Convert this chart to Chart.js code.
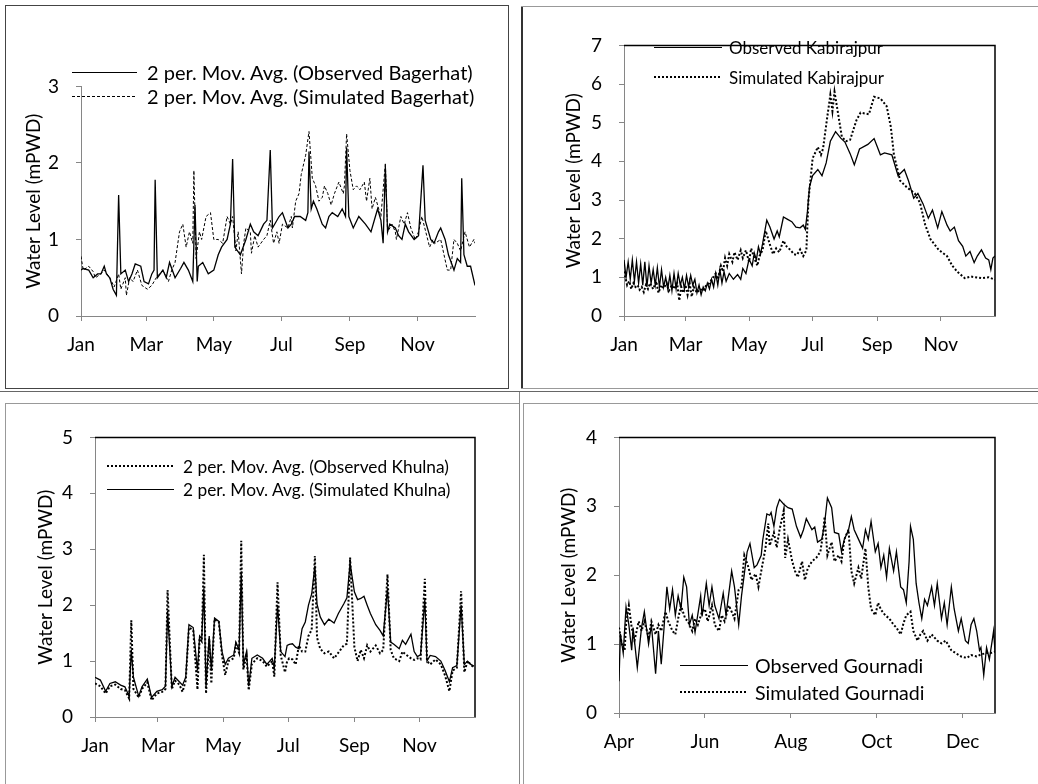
<!DOCTYPE html>
<html lang="en">
<head>
<meta charset="UTF-8">
<title>Observed vs simulated water levels</title>
<script src="https://cdn.jsdelivr.net/npm/chart.js"></script>
<style>
    body {
        margin: 0;
        background: #fff;
        font-family: Lato, "DejaVu Sans", sans-serif;
    }
    #page {
        position: relative;
        width: 1038px;
        height: 784px;
        overflow: hidden;
    }
    canvas {
        position: absolute;
    }
    .line {
        position: absolute;
    }
    .key {
        position: absolute;
        height: 24px;
        display: flex;
        align-items: center;
        white-space: nowrap;
        color: #000;
    }
    .solid { height: 1px; background: #000; }
    .dash { height: 1px; background: repeating-linear-gradient(90deg, #000 0 3px, transparent 3px 5px); }
    .dot { height: 2px; background: repeating-linear-gradient(90deg, #000 0 2px, transparent 2px 4px); }
</style>
</head>
<body>
<div id="page">
    <!-- panel frames -->
    <div class="line" style="left:5px;top:5px;width:504px;height:384px;border:1px solid #444;box-sizing:border-box"></div>
    <div class="line" style="left:521px;top:6px;width:2px;height:383px;background:#333"></div>
    <div class="line" style="left:521px;top:6px;width:517px;height:1px;background:#999"></div>
    <div class="line" style="left:521px;top:388px;width:517px;height:1px;background:#999"></div>
    <div class="line" style="left:0;top:391px;width:1038px;height:1px;background:#666"></div>
    <div class="line" style="left:5px;top:403px;width:515px;height:1px;background:#999"></div>
    <div class="line" style="left:5px;top:403px;width:1px;height:381px;background:#999"></div>
    <div class="line" style="left:519px;top:392px;width:1px;height:392px;background:#888"></div>
    <div class="line" style="left:523px;top:403px;width:515px;height:1px;background:#999"></div>
    <div class="line" style="left:523px;top:403px;width:1px;height:381px;background:#999"></div>

    <canvas id="bagerhat"></canvas>
    <canvas id="kabirajpur"></canvas>
    <canvas id="khulna"></canvas>
    <canvas id="gournadi"></canvas>

    <!-- legends -->
    <div class="key" style="left:72px;top:60px;font-size:20px"><span class="solid" style="width:65px;margin-right:10px"></span>2 per. Mov. Avg. (Observed Bagerhat)</div>
    <div class="key" style="left:72px;top:84px;font-size:20px"><span class="dash" style="width:65px;margin-right:10px"></span>2 per. Mov. Avg. (Simulated Bagerhat)</div>

    <div class="key" style="left:654px;top:35px;font-size:17px"><span class="solid" style="width:68px;margin-right:7px"></span>Observed Kabirajpur</div>
    <div class="key" style="left:654px;top:65px;font-size:17px"><span class="dot" style="width:68px;margin-right:7px"></span>Simulated Kabirajpur</div>

    <div class="key" style="left:107px;top:454px;font-size:17.3px"><span class="dot" style="width:67px;margin-right:9px"></span>2 per. Mov. Avg. (Observed Khulna)</div>
    <div class="key" style="left:107px;top:477px;font-size:17.3px"><span class="solid" style="width:67px;margin-right:9px"></span>2 per. Mov. Avg. (Simulated Khulna)</div>

    <div class="key" style="left:680px;top:653px;font-size:19.6px"><span class="solid" style="width:68px;margin-right:7px"></span>Observed Gournadi</div>
    <div class="key" style="left:680px;top:680px;font-size:19.6px"><span class="dot" style="width:68px;margin-right:7px"></span>Simulated Gournadi</div>
</div>

<script>
    // month ticks (day of year)
    const yearTicks = [0, 59, 120, 181, 243, 304];
    const yearLabels = ['Jan', 'Mar', 'May', 'Jul', 'Sep', 'Nov'];
    const monsoonTicks = [90, 151, 212, 273, 334];
    const monsoonLabels = ['Apr', 'Jun', 'Aug', 'Oct', 'Dec'];

    // Bagerhat
    const bagObsDays = [0,2,7,11,15,18,21,23,26,29, 32,34,36,40,43,46,49,54,57,61,
        64,66,67,69,74,77,80,85,90,93, 97,101,103,105,106,110,115,120,124,127,
        132,135,137,139,144,149,153,156,160,165, 168,171,173,179,182,187,190,193,198,203,
        205,206,208,210,213,218,221,224,227,232, 236,239,240,242,246,251,257,262,266,268,
        271,273,275,277,279,284,287,290,293,296, 301,305,309,311,316,319,323,325,329,332,
        337,340,343,344,346,349,352,356];
    const bagObs = [0.6,0.62,0.6,0.5,0.55,0.55,0.65,0.55,0.5,0.35, 0.27,1.58,0.55,0.6,0.45,0.55,0.68,0.65,0.45,0.42,
        0.55,0.6,1.78,0.5,0.6,0.5,0.7,0.5,0.62,0.7, 0.6,0.45,1.45,0.45,0.65,0.7,0.55,0.6,0.8,0.9,
        1.0,1.2,2.05,0.9,0.8,1.0,1.2,1.1,1.05,1.2, 1.25,2.17,1.15,1.3,1.35,1.15,1.2,1.3,1.3,1.25,
        1.35,2.15,1.4,1.5,1.4,1.2,1.15,1.3,1.35,1.3, 1.4,1.3,2.2,1.3,1.15,1.3,1.2,1.1,1.3,1.4,
        1.25,0.95,1.95,1.1,1.2,1.15,1.05,1.0,1.2,1.1, 1.0,1.05,1.97,1.25,1.0,0.95,1.1,1.15,1.0,0.8,
        0.6,0.75,0.7,1.8,0.8,0.65,0.65,0.4];
    const bagSimDays = [0,2,7,11,13,18,21,26,30,34, 36,40,41,44,47,51,55,60,64,68,
        74,79,82,85,89,92,95,98,101,102, 104,107,109,113,117,120,124,128,132,135,
        137,140,142,145,147,149,153,154,157,160, 165,168,171,174,177,179,182,187,190,191,
        194,197,199,203,206,209,212,215,218,220, 223,226,229,233,237,238,240,243,246,249,
        252,256,258,261,263,266,271,275,277,281, 284,285,289,292,295,298,302,305,308,315,
        318,320,325,328,331,334,337,340,343,347, 351,355,356];
    const bagSim = [0.78,0.6,0.65,0.58,0.5,0.55,0.6,0.5,0.38,0.55, 0.35,0.5,0.27,0.5,0.45,0.6,0.4,0.35,0.4,0.5,
        0.6,0.45,0.6,0.7,1.1,1.2,0.9,1.1,0.95,1.9, 0.75,1.1,1.0,1.3,1.35,1.0,1.0,0.95,1.3,1.2,
        1.3,0.85,1.1,0.55,0.95,1.15,1.1,0.82,1.05,0.9, 1.0,1.05,1.25,0.95,1.1,0.95,1.2,1.15,1.3,1.15,
        1.5,1.6,1.85,2.1,2.41,1.8,1.7,1.5,1.55,1.7, 1.6,1.45,1.6,1.75,1.6,1.7,2.38,1.9,1.65,1.7,
        1.65,1.75,1.5,1.8,1.4,1.55,1.3,2.0,1.1,1.2, 1.1,1.0,1.3,1.2,1.35,1.15,1.0,1.1,1.3,0.9,
        1.0,0.95,1.0,0.8,0.6,0.6,1.0,0.95,0.85,1.1, 0.9,1.0,0.95];

    // Kabirajpur
    const kabObsDays = [0,2,4,6,8,10,12,14,16,18, 20,22,24,26,28,30,32,34,36,38,
        40,42,44,46,48,50,52,54,56,58, 60,62,64,66,68,70,72,74,76,78,
        80,82,84,86,88,90,92,94,96,98, 101,105,109,112,114,117,120,123,125,127,
        129,131,133,137,140,144,147,149,153,157, 161,165,169,172,174,176,178,181,186,190,
        194,198,203,208,212,217,221,226,234,240, 246,250,257,263,269,273,278,282,287,292,
        296,301,305,310,313,317,321,325,328,332, 336,339,343,347,350,352,354,356];
    const kabObs = [1.45,1.0,1.4,0.95,1.45,0.9,1.4,0.85,1.35,0.8, 1.4,0.75,1.3,0.85,1.2,0.8,1.25,0.75,1.2,0.75,
        1.0,0.7,1.05,0.65,1.1,0.7,1.1,0.8,1.0,0.7, 1.05,0.75,1.05,0.8,0.95,0.6,0.8,0.55,0.75,0.65,
        0.85,0.7,0.95,0.75,1.1,0.8,1.2,0.85,1.15,0.9, 1.1,0.95,1.07,0.95,1.23,1.1,1.47,1.3,1.63,1.45,
        1.79,1.6,1.87,2.48,2.3,1.99,2.2,2.05,2.56,2.5, 2.44,2.3,2.28,2.35,2.24,2.7,3.34,3.63,3.79,3.63,
        3.96,4.52,4.77,4.6,4.5,4.2,3.91,4.32,4.44,4.59, 4.17,4.22,4.17,3.63,3.79,3.5,3.05,3.17,2.9,2.53,
        2.74,2.28,2.7,2.35,2.2,2.3,1.95,1.8,1.55,1.67, 1.38,1.55,1.71,1.5,1.45,1.2,1.5,1.55];
    const kabSimDays = [0,3,5,7,9,11,13,15,17,19, 21,23,25,28,31,33,36,38,41,43,
        46,48,51,53,55,57,59,61,63,65, 67,70,73,76,79,82,85,88,90,93,
        95,97,99,101,104,106,109,112,114,117, 120,122,125,128,130,133,136,140,143,146,
        149,153,156,160,163,166,169,172,175,177, 181,186,189,191,195,198,200,202,206,209,
        213,217,223,227,235,240,246,252,256,259, 265,271,279,284,289,294,302,310,315,320,
        327,333,343,350,356];
    const kabSim = [1.15,0.8,0.9,0.7,0.85,0.75,0.8,0.68,0.75,0.62, 0.8,0.7,0.85,0.7,0.9,0.6,0.8,0.72,0.85,0.65,
        0.8,0.7,0.85,0.4,0.75,0.6,0.8,0.55,0.85,0.5, 0.75,0.6,0.7,0.65,0.8,0.85,0.98,1.1,0.95,1.3,
        1.15,1.5,1.3,1.6,1.4,1.65,1.45,1.7,1.5,1.7, 1.4,1.75,1.5,1.3,1.55,1.71,2.2,1.85,1.6,1.75,
        1.65,1.95,1.8,1.7,1.6,1.58,1.72,1.55,1.7,3.0, 4.08,4.37,4.17,4.33,5.14,5.72,5.3,5.8,5.14,4.64,
        4.52,4.56,5.06,5.26,5.22,5.67,5.63,5.43,4.9,4.17, 3.5,3.34,3.17,2.93,2.36,1.99,1.71,1.55,1.3,1.14,
        0.98,1.02,0.98,1.0,0.94];

    // Khulna (observed and simulated read at the same days)
    const khuDays = [0,5,10,14,19,24,28,32,34,36, 41,44,49,53,58,63,66,68,72,75,
        79,82,85,88,92,96,98,100,102,104, 107,109,112,116,119,122,125,130,132,135,
        137,139,142,144,147,152,157,161,166,168, 171,174,178,180,182,185,188,191,194,197,
        200,203,206,208,211,215,219,224,228,233, 236,239,243,246,249,252,255,258,263,267,
        270,274,277,280,285,288,291,296,299,302, 305,309,311,314,319,324,328,332,335,339,
        343,346,349,352,355];
    const khuObs = [0.6,0.55,0.42,0.55,0.58,0.5,0.48,0.33,1.73,0.5, 0.35,0.5,0.62,0.3,0.42,0.45,0.5,2.27,0.5,0.65,
        0.58,0.45,0.65,1.6,1.55,0.49,1.4,1.35,2.9,0.42, 1.4,0.6,1.75,1.7,1.1,0.75,1.0,1.05,1.3,1.15,
        3.15,0.85,1.1,0.48,0.95,1.05,1.0,0.9,1.0,0.72, 2.41,1.1,0.8,1.0,1.05,1.03,0.94,1.28,1.17,1.17,
        1.45,1.56,2.88,1.42,1.22,1.14,1.17,1.05,1.15,1.28, 1.31,2.85,1.25,1.0,1.2,1.05,1.28,1.17,1.28,1.14,
        1.2,2.55,1.2,1.05,1.0,1.17,1.12,1.05,1.02,1.05, 1.03,2.47,1.0,0.94,1.03,0.94,0.74,0.46,0.83,0.88,
        2.25,0.8,1.0,0.94,0.88];
    const khuSim = [0.71,0.66,0.46,0.6,0.63,0.57,0.54,0.37,1.2,0.71, 0.37,0.54,0.68,0.35,0.46,0.49,0.55,1.9,0.54,0.71,
        0.63,0.57,0.71,1.65,1.6,0.83,1.45,1.4,2.3,0.54, 1.45,0.83,1.77,1.71,1.17,0.94,1.05,1.11,1.34,1.2,
        2.6,0.94,1.17,0.55,1.05,1.11,1.05,0.94,1.05,0.88, 2.0,1.17,1.08,1.28,1.3,1.31,1.25,1.22,1.58,1.7,
        2.0,2.2,2.7,2.02,1.79,1.65,1.75,1.68,1.85,2.02, 2.13,2.75,2.24,2.1,2.12,2.16,2.0,1.85,1.65,1.55,
        1.45,2.3,1.34,1.3,1.22,1.37,1.3,1.48,1.17,1.08, 1.11,2.1,1.0,1.1,1.08,1.0,0.83,0.63,0.88,0.92,
        2.0,0.94,1.0,0.94,0.91];

    // Gournadi
    const gouObsDays = [90,91,93,95,97,99,100,103,106,108, 111,113,116,118,120,122,124,126,128,130,
        132,134,136,138,140,142,144,148,149,152, 154,156,158,161,164,166,170,172,175,177,
        179,181,183,186,188,191,192,195,197,198, 200,202,204,207,210,213,216,219,221,223,
        227,229,231,234,236,238,241,243,246,248, 250,253,255,257,261,263,265,267,269,272,
        274,276,278,280,282,285,287,290,292,294, 296,297,299,301,303,305,307,309,312,314,
        316,319,321,323,326,328,331,333,336,338, 340,342,344,346,347,349,351,353,355,356,
        357];
    const gouObs = [0.46,1.15,0.87,1.54,1.28,0.91,1.24,0.66,1.24,1.47, 1.0,1.28,0.57,1.19,0.71,1.24,1.83,1.51,1.79,1.42,
        1.7,1.51,1.97,1.83,1.28,1.42,1.17,1.7,1.4,1.88, 1.56,1.83,1.56,1.37,1.74,1.42,2.06,1.83,1.28,1.7,
        2.02,2.34,2.46,2.11,2.15,2.29,2.5,2.89,2.87,2.91, 2.71,2.98,3.1,3.03,2.98,2.96,2.71,2.55,2.66,2.82,
        2.66,2.7,2.48,2.52,2.75,3.12,2.98,2.62,2.6,2.34, 2.52,2.66,2.85,2.66,2.48,2.39,2.66,2.52,2.78,2.34,
        2.46,2.11,2.29,1.97,2.39,2.06,2.34,1.83,1.79,1.6, 2.2,2.71,2.52,1.88,1.6,1.37,1.65,1.56,1.83,1.56,
        1.88,1.37,1.6,1.28,1.83,1.51,1.19,1.37,1.05,1.01, 1.28,1.37,1.19,0.91,0.95,0.55,0.95,0.78,1.05,1.19,
        0.9];
    const gouSimDays = [90,92,94,95,97,99,101,104,106,108, 111,113,116,118,120,123,125,128,130,132,
        134,137,139,142,144,146,149,151,153,156, 158,161,163,165,168,170,172,175,177,179,
        182,184,187,189,191,194,196,197,200,202, 204,207,208,210,213,215,217,220,222,224,
        227,230,233,235,236,238,241,243,246,248, 250,253,255,257,260,262,265,267,269,272,
        274,276,279,282,285,287,290,292,294,297, 299,302,304,306,309,312,316,319,322,326,
        329,333,337,340,344,347,351,354,357];
    const gouSim = [1.24,1.0,0.91,1.28,1.56,1.24,1.05,1.33,1.19,1.33, 1.1,1.33,1.14,1.28,1.19,1.47,1.33,1.19,1.14,1.37,
        1.56,1.37,1.33,1.19,1.37,1.28,1.47,1.51,1.33,1.56, 1.28,1.19,1.42,1.33,1.56,1.47,1.37,1.79,1.83,2.29,
        2.11,1.93,2.02,1.83,2.06,2.39,2.75,2.43,2.62,2.4, 2.66,2.94,2.25,2.52,2.2,2.06,1.97,2.2,1.93,2.1,
        2.2,2.25,2.34,2.62,2.85,2.29,2.48,2.2,2.29,2.2, 2.52,2.66,2.06,1.88,2.11,1.95,2.39,1.83,1.51,1.42,
        1.6,1.5,1.42,1.37,1.28,1.24,1.14,1.3,1.42,1.47, 1.19,1.05,1.14,1.19,1.05,1.14,1.05,1.01,1.05,0.91,
        0.87,0.82,0.8,0.84,0.82,0.85,0.87,0.87,0.89];

    const AXIS_GREY = '#868686';
    Chart.defaults.font.family = 'Lato, "DejaVu Sans", sans-serif';
    Chart.defaults.color = '#000';

    // black top/right edge of the plot box
    const boxEdge = {
        id: 'boxEdge',
        afterDraw(chart, args, opts) {
            if (!opts.show) return;
            const a = chart.chartArea;
            const ctx = chart.ctx;
            ctx.save();
            ctx.strokeStyle = '#000';
            ctx.lineWidth = 1.5;
            ctx.beginPath();
            ctx.moveTo(a.left, a.top);
            ctx.lineTo(a.right, a.top);
            ctx.lineTo(a.right, a.bottom);
            ctx.stroke();
            ctx.restore();
        }
    };

    function points(days, vals) {
        return days.map((d, i) => ({ x: d, y: vals[i] }));
    }

    function line(days, vals, style) {
        const ds = {
            data: points(days, vals),
            borderColor: '#000',
            borderWidth: 1.3,
            pointRadius: 0,
            tension: 0,
            fill: false
        };
        if (style === 'dash') {
            ds.borderWidth = 1;
            ds.borderDash = [3, 2];
        } else if (style === 'dot') {
            ds.borderWidth = 2;
            ds.borderDash = [2, 2];
        }
        return ds;
    }

    // plot = [left, top, right, bottom] of the plotting area, titleX = centre of the y title
    function waterChart(id, plot, titleX, xMin, xMax, tickDays, tickLabels, yMax, datasets, boxed) {
        const [L, T, R, B] = plot;
        const left = Math.round(titleX - 11.4);
        const top = T - 14;
        const width = R + 14 - left;
        const height = B + 52 - top;
        const canvas = document.getElementById(id);
        canvas.style.left = left + 'px';
        canvas.style.top = top + 'px';
        canvas.width = width;
        canvas.height = height;

        new Chart(canvas.getContext('2d'), {
            type: 'line',
            data: { datasets: datasets },
            plugins: [boxEdge],
            options: {
                responsive: false,
                animation: false,
                events: [],
                layout: { padding: { top: 14, right: 14, left: 0, bottom: 0 } },
                plugins: {
                    legend: { display: false },
                    tooltip: { enabled: false },
                    boxEdge: { show: boxed }
                },
                scales: {
                    x: {
                        type: 'linear',
                        min: xMin,
                        max: xMax,
                        afterBuildTicks: s => { s.ticks = tickDays.map(v => ({ value: v })); },
                        afterFit: s => { s.height = 52; },
                        ticks: {
                            callback: (v, i) => tickLabels[i],
                            autoSkip: false,
                            maxRotation: 0,
                            padding: 12,
                            font: { size: 19 }
                        },
                        grid: { drawOnChartArea: false, tickLength: 5, color: AXIS_GREY },
                        border: { color: AXIS_GREY }
                    },
                    y: {
                        min: 0,
                        max: yMax,
                        afterFit: s => { s.width = L - left; },
                        ticks: { stepSize: 1, padding: 17, font: { size: 19 } },
                        grid: { drawOnChartArea: false, tickLength: 5, color: AXIS_GREY },
                        border: { color: AXIS_GREY },
                        title: {
                            display: true,
                            text: 'Water Level (mPWD)',
                            font: { size: 19 },
                            padding: { top: 0, bottom: 0 }
                        }
                    }
                }
            }
        });
    }

    waterChart('bagerhat', [81, 72, 475, 316], 33, 0, 356, yearTicks, yearLabels, 3, [
        line(bagObsDays, bagObs, 'solid'),
        line(bagSimDays, bagSim, 'dash')
    ], false);

    waterChart('kabirajpur', [624, 31, 995, 316], 573, 0, 356, yearTicks, yearLabels, 7, [
        line(kabObsDays, kabObs, 'solid'),
        line(kabSimDays, kabSim, 'dot')
    ], true);

    waterChart('khulna', [95, 423, 475, 717], 45, 0, 356, yearTicks, yearLabels, 5, [
        line(khuDays, khuObs, 'dot'),
        line(khuDays, khuSim, 'solid')
    ], true);

    waterChart('gournadi', [619, 423, 995, 713], 568, 90, 357, monsoonTicks, monsoonLabels, 4, [
        line(gouObsDays, gouObs, 'solid'),
        line(gouSimDays, gouSim, 'dot')
    ], true);
</script>
</body>
</html>
